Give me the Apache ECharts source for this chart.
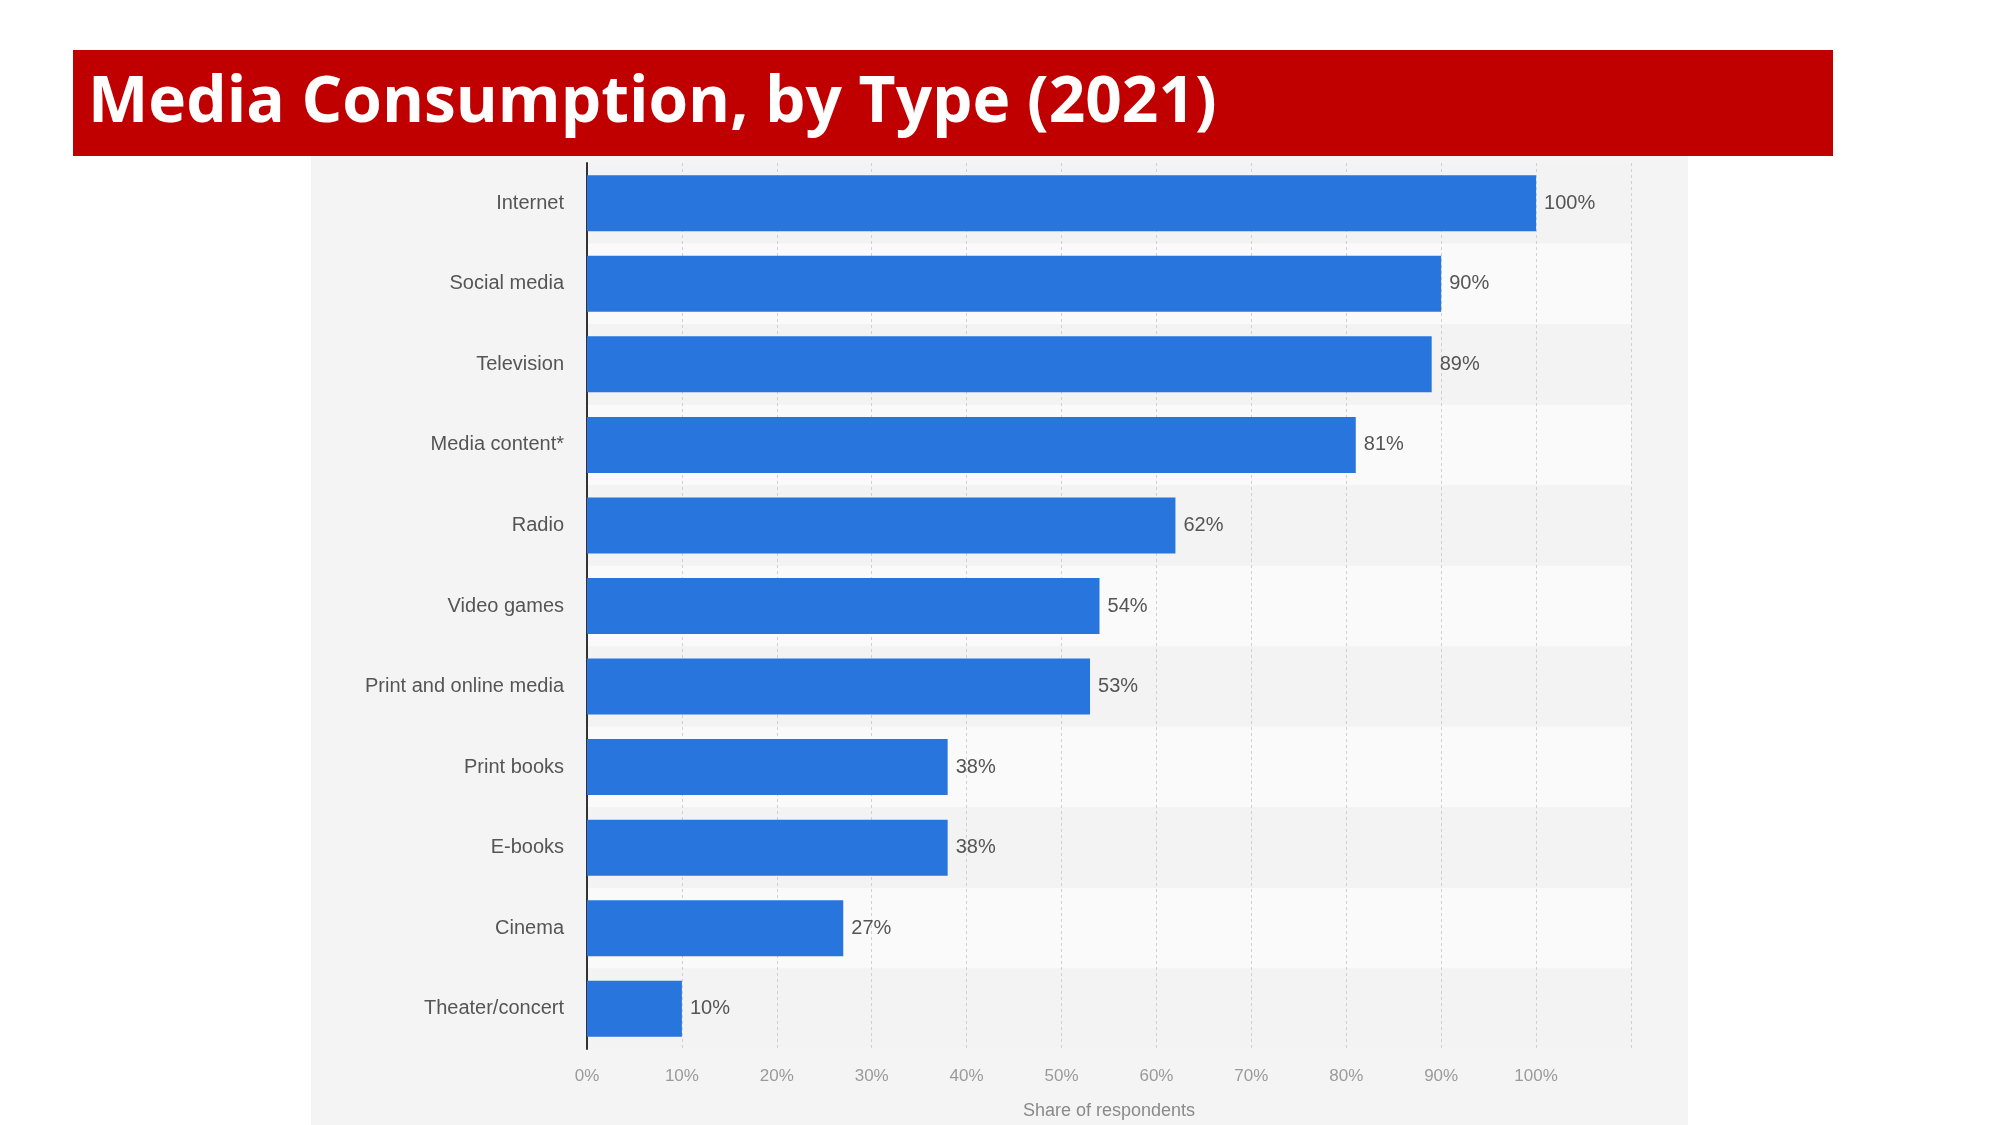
<!DOCTYPE html>
<html>
<head>
<meta charset="utf-8">
<script src="https://cdn.jsdelivr.net/npm/echarts@6/dist/echarts.min.js"></script>
<style>
html,body{margin:0;padding:0;background:#fff;}
#c{width:2000px;height:1125px;}
</style>
</head>
<body>
<div id="c"></div>
<script>
const categories = ["Internet","Social media","Television","Media content*","Radio","Video games","Print and online media","Print books","E-books","Cinema","Theater/concert"];
const shares = [100,90,89,81,62,54,53,38,38,27,10];
const xTicks = [0,10,20,30,40,50,60,70,80,90,100];
const titleText = "Media Consumption, by Type (2021)";
const axisName = "Share of respondents";

const chart = echarts.init(document.getElementById('c'), null, {renderer:'canvas'});
chart.setOption({
  backgroundColor:'#ffffff',
  animation:false,
  graphic:[
    {type:'rect', z:-10, shape:{x:311,y:156,width:1377,height:969}, style:{fill:'#f4f4f4'}},
    {type:'rect', z:-5, shape:{x:73,y:50,width:1760,height:106}, style:{fill:'#c00000'}}
  ],
  title:{
    text:titleText, left:83, top:67,
    textStyle:{color:'#ffffff', fontFamily:'Open Sans', fontWeight:'bold', fontSize:64}
  },
  grid:{left:587, top:163, width:1044, height:887, containLabel:false},
  xAxis:{
    type:'value', min:0, max:110, interval:10,
    axisLine:{show:false}, axisTick:{show:false},
    axisLabel:{
      formatter:function(v){ return xTicks.indexOf(v) >= 0 ? v + '%' : ''; },
      color:'#9a9a9a', fontFamily:'Liberation Sans', fontSize:17, margin:19
    },
    splitLine:{show:true, lineStyle:{color:'#d0d0d0', type:[3,3], width:1}},
    name:axisName, nameLocation:'middle', nameGap:53,
    nameTextStyle:{color:'#8a8a8a', fontFamily:'Liberation Sans', fontSize:18}
  },
  yAxis:{
    type:'category', data:categories, inverse:true,
    axisLine:{show:true, lineStyle:{color:'#333333', width:2}},
    axisTick:{show:false},
    axisLabel:{color:'#555555', fontFamily:'Liberation Sans', fontSize:20, margin:23},
    splitArea:{show:true, areaStyle:{color:['#f3f3f3','#fafafa']}}
  },
  series:[{
    type:'bar', data:shares, barWidth:56,
    itemStyle:{color:'#2876dd'},
    label:{show:true, position:'right', distance:8, formatter:'{c}%', color:'#555555', fontFamily:'Liberation Sans', fontSize:20}
  }]
});
</script>
</body>
</html>
